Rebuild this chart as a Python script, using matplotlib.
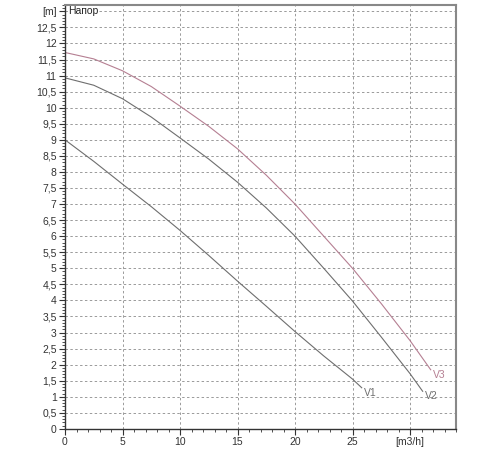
import matplotlib
matplotlib.use("Agg")
import matplotlib.pyplot as plt
import numpy as np
from matplotlib.ticker import MultipleLocator

plt.rcParams['font.family'] = ['Liberation Sans', 'DejaVu Sans']

q_v3 = [0, 2.5, 5, 7.5, 10, 12.5, 15, 17.5, 20, 22.5, 25, 27.5, 30, 31.8]
h_v3 = [11.72, 11.52, 11.15, 10.66, 10.05, 9.42, 8.72, 7.9, 7.0, 6.0, 5.0, 3.9, 2.75, 1.84]
q_v2 = [0, 2.5, 5, 7.5, 10, 12.5, 15, 17.5, 20, 22.5, 25, 27.5, 30, 31.1]
h_v2 = [10.93, 10.7, 10.28, 9.71, 9.06, 8.4, 7.68, 6.88, 6.0, 5.0, 3.98, 2.86, 1.72, 1.17]
q_v1 = [0, 2.5, 5, 7.5, 10, 12.5, 15, 17.5, 20, 22.5, 25, 25.8]
h_v1 = [9.0, 8.33, 7.62, 6.92, 6.18, 5.4, 4.6, 3.82, 3.03, 2.27, 1.55, 1.28]
labels = ['V1', 'V2', 'V3']

x_ticks = [0, 5, 10, 15, 20, 25, 30]
x_ticklabels = ['0', '5', '10', '15', '20', '25', '[m3/h]']
y_ticks = list(np.arange(0, 13.01, 0.5))
y_ticklabels = [('%g' % v).replace('.', ',') for v in y_ticks[:-1]] + ['[m]']

fig = plt.figure(figsize=(5, 4.5), dpi=100)
ax = fig.add_axes([0.13, 0.047, 0.782, 0.942])

c_v3 = '#b57f92'
c_gray = '#6e6e6e'
ax.plot(q_v1, h_v1, color=c_gray, lw=0.8, solid_joinstyle='round')
ax.plot(q_v2, h_v2, color=c_gray, lw=0.8, solid_joinstyle='round')
ax.plot(q_v3, h_v3, color=c_v3, lw=0.8, solid_joinstyle='round')
ax.text(q_v1[-1] + 0.2, h_v1[-1] - 0.15, labels[0], color=c_gray, fontsize=7.5, va='center')
ax.text(q_v2[-1] + 0.2, h_v2[-1] - 0.15, labels[1], color=c_gray, fontsize=7.5, va='center')
ax.text(q_v3[-1] + 0.2, h_v3[-1] - 0.15, labels[2], color=c_v3, fontsize=7.5, va='center')

ax.set_xlim(0, 34)
ax.set_ylim(0, 13.2)
ax.set_xticks(x_ticks)
ax.set_xticklabels(x_ticklabels, fontsize=7.5)
ax.set_yticks(y_ticks)
ax.set_yticklabels(y_ticklabels, fontsize=7.5)
ax.xaxis.set_minor_locator(MultipleLocator(1))
ax.yaxis.set_minor_locator(MultipleLocator(0.1))
ax.tick_params(axis='both', which='major', direction='out', length=4, width=0.8, pad=2,
               colors='#333333', labelcolor='#333333')
ax.tick_params(axis='both', which='minor', direction='out', length=2.5, width=0.6, colors='#333333')

ax.grid(True, which='major', linestyle=(0, (2.5, 2.5)), color='#9a9a9a', linewidth=0.7)
for s in ['left', 'bottom']:
    ax.spines[s].set_color('#333333')
    ax.spines[s].set_linewidth(1.0)
for s in ['top', 'right']:
    ax.spines[s].set_color('#888888')
    ax.spines[s].set_linewidth(1.5)

ax.text(0.3, 13.0, 'Напор', fontsize=7.5, color='#222222', va='center', ha='left',
        bbox=dict(facecolor='white', edgecolor='none', pad=0.5))

fig.savefig('out.png', dpi=100)
